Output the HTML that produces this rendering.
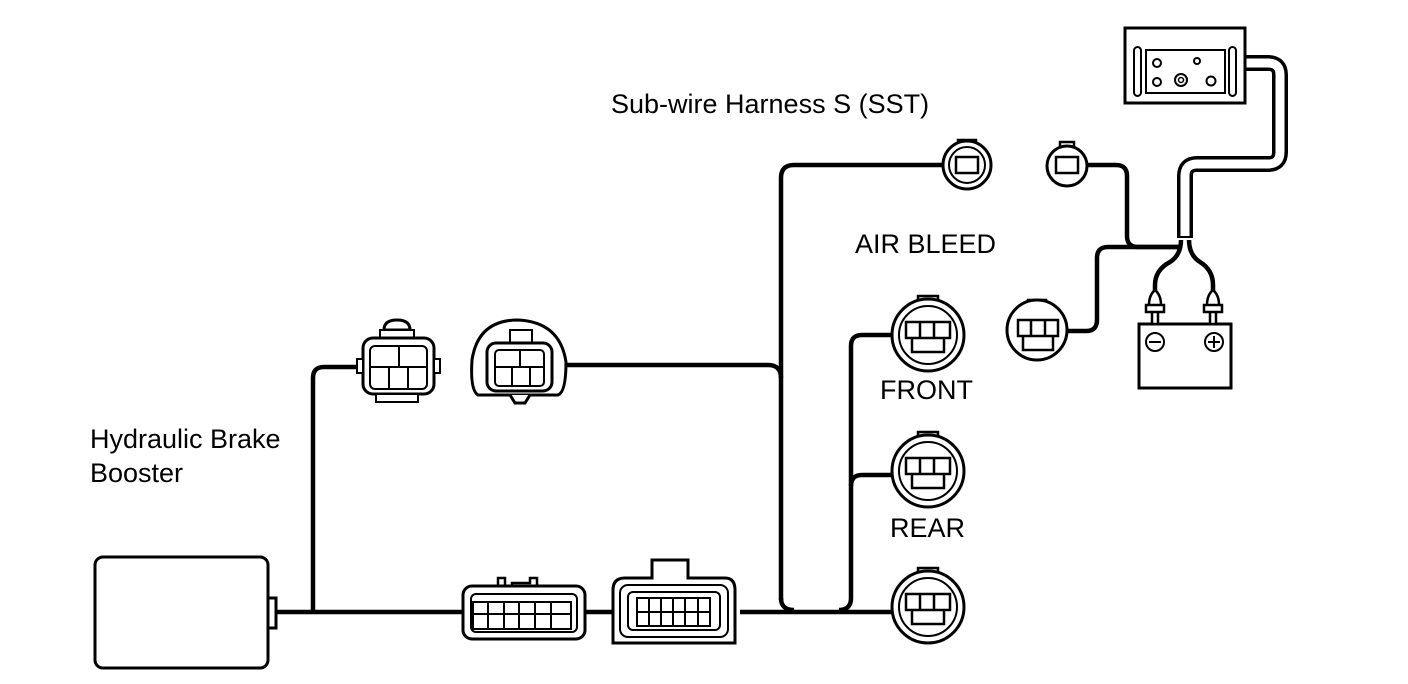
<!DOCTYPE html>
<html><head><meta charset="utf-8"><style>
html,body{margin:0;padding:0;background:#fff;}
svg{display:block;}
text{font-family:"Liberation Sans",sans-serif;font-size:27px;fill:#000;}
</style></head><body>
<svg width="1408" height="684" viewBox="0 0 1408 684" xmlns="http://www.w3.org/2000/svg">
<g fill="none" stroke="#000" stroke-width="4.5" stroke-linejoin="round">
 <path d="M274 612 H463"/>
 <path d="M585 612 H620"/>
 <path d="M740 612 H893"/>
 <path d="M313 612 V378 Q313 367 324 367 H358"/>
 <path d="M566 365 H768 Q781 365 781 378"/>
 <path d="M781 600 V178 Q781 165 794 165 H942"/>
 <path d="M781 598 Q781 610 794 610"/>
 <path d="M1088 165 H1116 Q1127 165 1127 176 V236 Q1127 247 1138 247 H1182"/>
 <path d="M1182 247 H1108 Q1097 247 1097 258 V320 Q1097 331 1086 331 H1067"/>
 <path d="M893 335 H862 Q851 335 851 346 V598 Q851 610 839 610"/>
 <path d="M851 486 Q851 475 862 475 H893"/>
 <path d="M1181 240 Q1181 255 1170 262 Q1155 270 1155 285 V300"/>
 <path d="M1189 240 Q1189 255 1200 262 Q1213 270 1213 285 V300"/>
</g>
<path d="M1240 63 H1268 Q1280 63 1280 75 V152 Q1280 164 1268 164 H1197 Q1185 164 1185 176 V238" fill="none" stroke="#000" stroke-width="16"/>
<path d="M1240 63 H1268 Q1280 63 1280 75 V152 Q1280 164 1268 164 H1197 Q1185 164 1185 176 V236" fill="none" stroke="#fff" stroke-width="9"/>
<g fill="#fff" stroke="#000" stroke-width="3">
 <rect x="1125" y="28" width="120" height="75"/>
 <rect x="1146" y="50" width="79" height="43" stroke-width="2"/>
 <rect x="1134" y="47" width="7" height="49" rx="3.5" stroke-width="2"/>
 <rect x="1229" y="47" width="7" height="49" rx="3.5" stroke-width="2"/>
 <circle cx="1157" cy="63" r="4" stroke-width="2"/><circle cx="1197" cy="61" r="3" stroke-width="2"/>
 <circle cx="1157" cy="82" r="4" stroke-width="2"/><circle cx="1181" cy="80" r="6" stroke-width="2"/><circle cx="1181" cy="80" r="2.5" stroke-width="1.5"/><circle cx="1211" cy="81" r="4.5" stroke-width="2"/>
 <rect x="1139" y="324" width="92" height="64"/>
 <circle cx="1155" cy="342" r="9" stroke-width="2"/><circle cx="1214" cy="342" r="9" stroke-width="2"/>
 <path d="M1149 342 H1161 M1208 342 H1220 M1214 336 V348" stroke-width="2"/>
 <path d="M1149 305 Q1149 295 1155 290 Q1161 295 1161 305 Z M1146 305 H1164 V312 H1146 Z M1152 312 H1158 V324 H1152 Z" stroke-width="2.5"/>
 <path d="M1207 305 Q1207 295 1213 290 Q1219 295 1219 305 Z M1204 305 H1222 V312 H1204 Z M1210 312 H1216 V324 H1210 Z" stroke-width="2.5"/>
 <rect x="95" y="557" width="173" height="111" rx="8"/>
 <rect x="268" y="598" width="8" height="30"/>
 <path d="M384 330 Q384 320 397 320 Q410 320 410 330 Z" />
 <rect x="380" y="330" width="34" height="8" stroke-width="2"/>
 <rect x="363" y="338" width="71" height="56" rx="10"/>
 <rect x="370" y="346" width="57" height="43" rx="5" stroke-width="2"/>
 <path d="M370 367 H427 M389 367 V389 M408 367 V389 M399 346 V367" stroke-width="2"/>
 <rect x="357" y="359" width="6" height="14" stroke-width="2"/><rect x="434" y="359" width="6" height="14" stroke-width="2"/>
 <rect x="376" y="394" width="42" height="8" stroke-width="2"/>
 <path d="M478 395 Q470 390 472 360 Q478 320 518 320 Q560 322 566 362 Q566 392 558 395 Z"/>
 <path d="M510 395 L515 403 H525 L530 395" />
 <rect x="510" y="330" width="22" height="14" stroke-width="2"/>
 <rect x="487" y="343" width="65" height="48" rx="9"/>
 <rect x="495" y="350" width="49" height="36" rx="4" stroke-width="2"/>
 <path d="M495 367 H544 M512 367 V386 M530 367 V386 M520 350 V367" stroke-width="2"/>
 <path d="M498 586 V578 H505 V587 H512 V583 H530 V578 H537 V586 Z" stroke-width="2.5"/>
 <rect x="463" y="586" width="122" height="53" rx="9"/>
 <rect x="471" y="594" width="106" height="38" rx="5" stroke-width="2"/>
 <path d="M473 602 V629 H571 V602 Z M473 614 H571 M488 602 V629 M504 602 V629 M519 602 V629 M535 602 V629 M551 602 V629" stroke-width="2"/>
 <path d="M652 578 V560 H688 V578 H725 Q735 578 735 590 V643 H613 V590 Q613 578 625 578 Z"/>
 <rect x="620" y="585" width="108" height="52" rx="8" stroke-width="2"/>
 <rect x="628" y="592" width="92" height="38" rx="5" stroke-width="2"/>
 <path d="M637 598 V626 H710 V598 Z M637 612 H710 M649 598 V626 M661 598 V626 M673 598 V626 M685 598 V626 M698 598 V626" stroke-width="2"/>
 <path d="M958 147 V140 H976 V147" stroke-width="2.5"/>
 <circle cx="967" cy="165" r="24"/>
 <circle cx="967" cy="165" r="18" stroke-width="2"/>
 <rect x="956" y="157" width="22" height="16" stroke-width="2.5"/>
 <path d="M1060 148 V142 H1074 V148" stroke-width="2.5"/>
 <circle cx="1067" cy="166" r="20"/>
 <rect x="1056" y="157" width="22" height="16" stroke-width="2.5"/>
 <path d="M1028 308 V300 H1046 V308" stroke-width="2.5"/>
 <circle cx="1037" cy="330" r="30"/>
 <path d="M1018 320 V336 H1058 V320 Z M1031 320 V336 M1045 320 V336 M1023 336 V350 H1053 V336" stroke-width="2.5"/>
 <g id="ab">
  <path d="M918 304 V296 H938 V304" stroke-width="2.5"/>
  <circle cx="928" cy="335" r="36"/>
  <circle cx="928" cy="335" r="29" stroke-width="2"/>
  <path d="M906 322 V338 H950 V322 Z M920 322 V338 M934 322 V338 M912 338 V352 H944 V338" stroke-width="2.5"/>
 </g>
 <use href="#ab" y="136"/>
 <use href="#ab" y="272"/>
</g>
<text x="611" y="113" font-size="26">Sub-wire Harness S (SST)</text>
<text x="855" y="253" font-size="26">AIR BLEED</text>
<text x="880" y="399" font-size="26">FRONT</text>
<text x="890" y="537" font-size="26">REAR</text>
<text x="90" y="448" font-size="26">Hydraulic Brake</text>
<text x="90" y="482" font-size="26">Booster</text>
</svg>
</body></html>
